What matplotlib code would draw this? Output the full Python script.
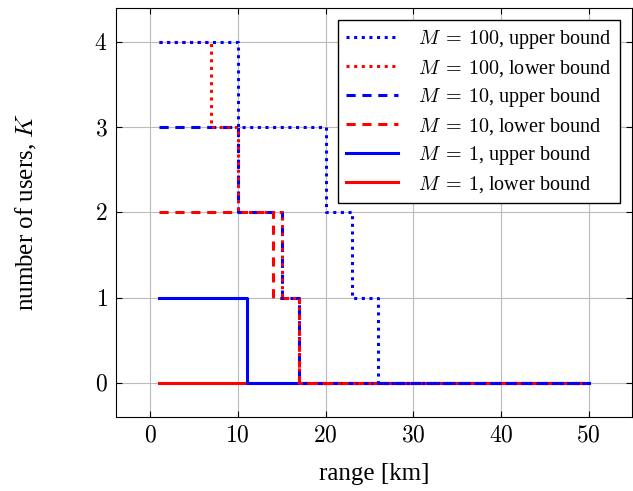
import matplotlib.pyplot as plt
import numpy as np

plt.rcParams['font.family'] = ['Liberation Serif', 'DejaVu Serif']
plt.rcParams['mathtext.fontset'] = 'cm'

# breakpoints (km) i broj korisnika K, step "post"
x_m100_up = [1, 10, 20, 23, 26, 50]
k_m100_up = [4, 3, 2, 1, 0, 0]
x_m100_lo = [1, 7, 10, 15, 17, 50]
k_m100_lo = [4, 3, 2, 1, 0, 0]
x_m10_up = [1, 10, 15, 17, 50]
k_m10_up = [3, 2, 1, 0, 0]
x_m10_lo = [1, 14, 17, 50]
k_m10_lo = [2, 1, 0, 0]
x_m1_up = [1, 11, 50]
k_m1_up = [1, 0, 0]
x_m1_lo = [1, 50]
k_m1_lo = [0, 0]

xticks = [0, 10, 20, 30, 40, 50]
yticks = [0, 1, 2, 3, 4]

fig = plt.figure(figsize=(6.33, 4.91), dpi=100)
ax = fig.add_axes([0.183, 0.151, 0.815, 0.833])

lw = 2.2
dot = (0, (1, 1.5))
dash = (0, (3, 2.2))
# zadnje nacrtane su na vrhu (M=100 upper)
ax.step(x_m100_up, k_m100_up, where='post', color='blue', lw=lw, ls=dot, zorder=8, label=r'$M\:=\:100$, upper bound')
ax.step(x_m100_lo, k_m100_lo, where='post', color='red', lw=lw, ls=dot, zorder=7, label=r'$M\:=\:100$, lower bound')
ax.step(x_m10_up, k_m10_up, where='post', color='blue', lw=lw, ls=dash, zorder=6, label=r'$M\:=\:10$, upper bound')
ax.step(x_m10_lo, k_m10_lo, where='post', color='red', lw=lw, ls=dash, zorder=5, label=r'$M\:=\:10$, lower bound')
ax.step(x_m1_up, k_m1_up, where='post', color='blue', lw=lw, zorder=4, label=r'$M\:=\:1$, upper bound')
ax.step(x_m1_lo, k_m1_lo, where='post', color='red', lw=lw, zorder=3, label=r'$M\:=\:1$, lower bound')

ax.set_xlim(-3.9, 54.9)
ax.set_ylim(-0.4, 4.4)
ax.set_xticks(xticks)
ax.set_yticks(yticks)
ax.set_xticklabels([r'$%d$' % v for v in xticks])
ax.set_yticklabels([r'$%d$' % v for v in yticks])
ax.tick_params(labelsize=17, direction='in', length=4, top=True, right=True, pad=6)
ax.grid(True, color='#bbbbbb', lw=0.8)
ax.set_axisbelow(True)

ax.set_xlabel('range [km]', fontsize=18, labelpad=12)
ax.set_ylabel('number of users, $K$', fontsize=18, labelpad=40)

leg = ax.legend(loc='upper right', fontsize=14.5, fancybox=False, edgecolor='black',
                framealpha=1, borderaxespad=0.6, handlelength=2.6, labelspacing=0.35,
                handletextpad=1.0)
leg.get_frame().set_linewidth(1.0)

plt.savefig('out.png', dpi=100)
